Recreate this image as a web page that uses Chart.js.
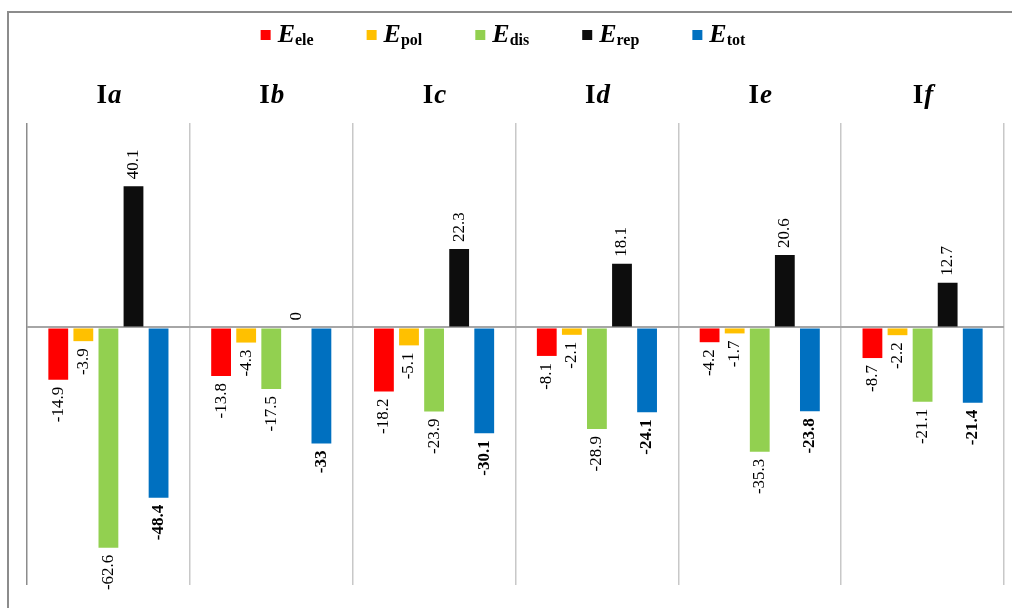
<!DOCTYPE html>
<html>
<head>
<meta charset="UTF-8">
<title>Interaction energies</title>
<script src="https://cdn.jsdelivr.net/npm/chart.js"></script>
<style>
body{margin:0;background:#fff;}
canvas{display:block;}
</style>
</head>
<body>
<canvas id="chart" width="1012" height="608"></canvas>
<script>
// data
const groups = ['a','b','c','d','e','f'];
const seriesNames = ['ele','pol','dis','rep','tot'];
const eEle = [-14.9,-13.8,-18.2,-8.1,-4.2,-8.7];
const ePol = [-3.9,-4.3,-5.1,-2.1,-1.7,-2.2];
const eDis = [-62.6,-17.5,-23.9,-28.9,-35.3,-21.1];
const eRep = [40.1,0,22.3,18.1,20.6,12.7];
const eTot = [-48.4,-33,-30.1,-24.1,-23.8,-21.4];
const colors = ['#ff0000','#ffc000','#92d050','#0d0d0d','#0070c0'];

const serif = "'Liberation Serif','Times New Roman',serif";

// frame + legend + group titles + value labels
const decor = {
  id:'decor',
  beforeDraw(chart){
    const c = chart.ctx;
    c.save();
    c.strokeStyle = '#8c8c8c';
    c.lineWidth = 2;
    c.beginPath();
    c.moveTo(8, 608);
    c.lineTo(8, 12);
    c.lineTo(1012, 12);
    c.stroke();
    c.restore();
  },
  afterDatasetsDraw(chart){
    const c = chart.ctx;
    const area = chart.chartArea;
    const x = chart.scales.x;
    c.save();

    // legend
    const items = chart.data.datasets.map(ds => {
      c.font = "italic bold 26px " + serif;
      const wE = c.measureText('E').width;
      c.font = "bold 16px " + serif;
      const wS = c.measureText(ds.label).width;
      return {ds, wE, wS, w: 10 + 7 + wE + wS};
    });
    const gap = 53;
    const total = items.reduce((s,it) => s + it.w, 0) + gap*(items.length-1);
    let lx = 503 - total/2;
    items.forEach(it => {
      c.fillStyle = it.ds.backgroundColor;
      c.fillRect(lx, 30, 10, 10);
      c.fillStyle = '#000';
      c.textBaseline = 'alphabetic';
      c.textAlign = 'left';
      c.font = "italic bold 26px " + serif;
      c.fillText('E', lx + 17, 42);
      c.font = "bold 16px " + serif;
      c.fillText(it.ds.label, lx + 17 + it.wE, 45);
      lx += it.w + gap;
    });

    // group titles
    groups.forEach((g,i) => {
      const cx = x.getPixelForValue(i);
      c.font = "bold 27px " + serif;
      const wI = c.measureText('I').width;
      c.font = "italic bold 27px " + serif;
      const wG = c.measureText(g).width;
      const sx = cx - (wI + wG)/2;
      c.fillStyle = '#000';
      c.textAlign = 'left';
      c.textBaseline = 'alphabetic';
      c.font = "bold 27px " + serif;
      c.fillText('I', sx, area.top - 20);
      c.font = "italic bold 27px " + serif;
      c.fillText(g, sx + wI + 1, area.top - 20);
    });

    // value labels, rotated
    chart.data.datasets.forEach((ds,di) => {
      const meta = chart.getDatasetMeta(di);
      meta.data.forEach((bar,i) => {
        const v = ds.data[i];
        c.save();
        c.translate(bar.x, bar.y + (v >= 0 ? -7 : 7));
        c.rotate(-Math.PI/2);
        c.fillStyle = '#000';
        c.textBaseline = 'middle';
        c.textAlign = v >= 0 ? 'left' : 'right';
        c.font = (di === 4 ? 'bold ' : '') + '17px ' + serif;
        c.fillText(String(v), 0, 0);
        c.restore();
      });
    });
    c.restore();
  }
};

const values = [eEle, ePol, eDis, eRep, eTot];

new Chart(document.getElementById('chart'), {
  type:'bar',
  data:{
    labels: groups,
    datasets: seriesNames.map((n,i) => ({
      label: n,
      data: values[i],
      backgroundColor: colors[i],
      categoryPercentage: 0.77,
      barPercentage: 0.79
    }))
  },
  options:{
    responsive:false,
    animation:false,
    layout:{padding:{top:123,left:27,right:8,bottom:23}},
    plugins:{legend:{display:false},tooltip:{enabled:false}},
    scales:{
      x:{
        ticks:{display:false},
        border:{display:false},
        grid:{
          offset:true,
          drawTicks:false,
          lineWidth:1.5,
          color: ctx => ctx.index === 0 ? '#8c8c8c' : '#c8c8c8'
        }
      },
      y:{
        min:-73.2,
        max:58.1,
        ticks:{display:false},
        border:{display:false},
        grid:{
          drawTicks:false,
          lineWidth:2,
          color: ctx => ctx.tick && ctx.tick.value === 0 ? '#a6a6a6' : 'rgba(0,0,0,0)'
        }
      }
    }
  },
  plugins:[decor]
});
</script>
</body>
</html>
